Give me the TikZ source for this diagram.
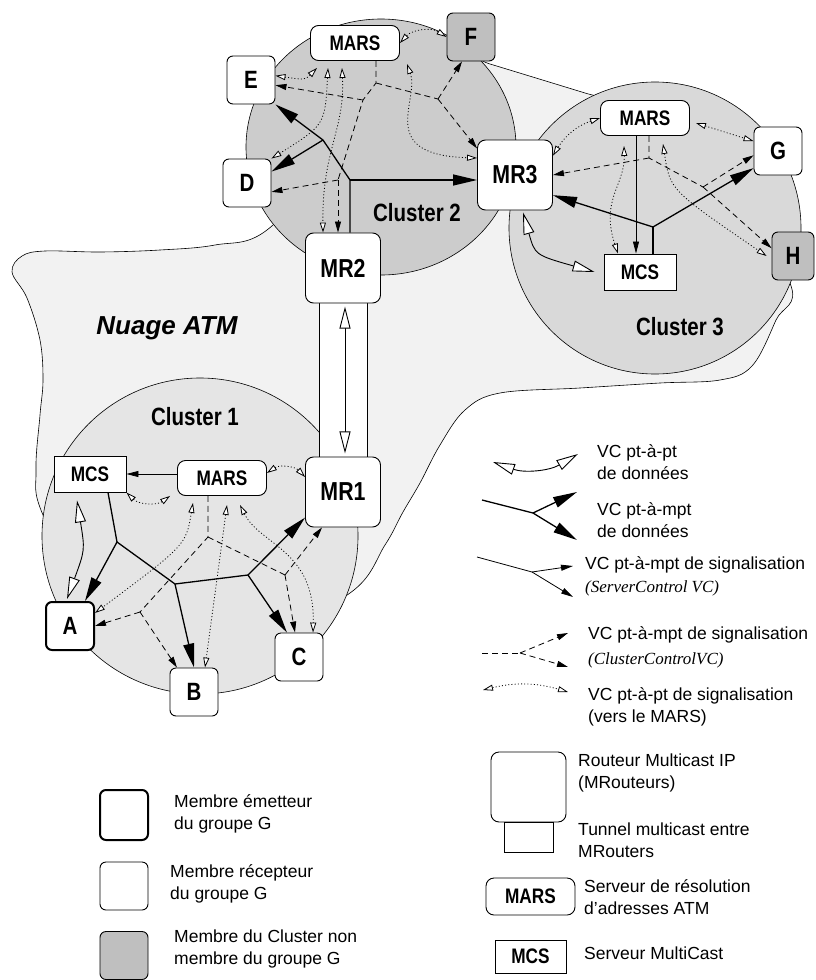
\documentclass[tikz,border=0pt]{standalone}
\usepackage{fontspec}
\setmainfont{Liberation Sans}
\newfontfamily\narrowsf{Liberation Sans}[FakeStretch=0.82]
\newfontfamily\seriffont{Liberation Serif}
\usetikzlibrary{arrows.meta}
\definecolor{cloudgray}{gray}{0.95}
\definecolor{clusterone}{gray}{0.9}
\definecolor{clustertwo}{gray}{0.8}
\definecolor{clusterthree}{gray}{0.85}
\definecolor{membergray}{gray}{0.75}
\newcommand\boxfont[1]{\narrowsf\bfseries\fontsize{#1}{#1}\selectfont}

\begin{document}
\begin{tikzpicture}[x=1pt,y=1pt,
  member/.style={draw,fill=white,rounded corners=6pt,line width=0.9pt,minimum width=48pt,minimum height=48pt,inner sep=0pt,font=\boxfont{25}},
  sender/.style={member,line width=2pt},
  nonmember/.style={member,fill=membergray},
  router/.style={member,rounded corners=8pt,minimum width=75pt,minimum height=70pt,font=\boxfont{26}},
  mars/.style={member,rounded corners=8pt,minimum width=89pt,minimum height=35pt,font=\boxfont{21}},
  mcs/.style={draw,fill=white,line width=0.9pt,minimum width=72pt,minimum height=36pt,inner sep=0pt,font=\boxfont{21}},
  clusterlbl/.style={font=\boxfont{25}},
  legtext/.style={anchor=west,align=left,inner sep=0pt,font=\fontsize{17.5}{22}\selectfont},
  legital/.style={legtext,font=\seriffont\itshape\fontsize{17}{20}\selectfont},
  dataline/.style={line width=1.3pt},
  data/.style={dataline,-{Triangle[length=24pt,width=11pt]}},
  datapp/.style={line width=0.9pt,{Triangle[fill=white,length=22pt,width=11pt]}-{Triangle[fill=white,length=22pt,width=11pt]}},
  srv/.style={line width=0.8pt,-{Triangle[length=12pt,width=6pt]}},
  ctlline/.style={line width=0.8pt,dash pattern=on 6pt off 4pt},
  ctl/.style={ctlline,-{Triangle[length=11pt,width=6pt]}},
  sig/.style={line width=0.8pt,dash pattern=on 1pt off 2.2pt,{Triangle[fill=white,length=10pt,width=6pt]}-{Triangle[fill=white,length=10pt,width=6pt]}}]
\useasboundingbox (0,0) rectangle (815,-980);

\draw[fill=cloudgray,line width=0.6pt] plot[smooth cycle,tension=0.6] coordinates {(12,-272) (22,-256) (45,-251) (100,-252) (160,-250) (215,-245) (267,-230) (340,-150) (440,-49) (490,-64) (585,-93) (640,-110) (720,-180) (790,-283) (776,-320) (752,-366) (720,-380) (660,-383) (580,-388) (500,-393) (465,-410) (440,-445) (420,-483) (403,-512) (385,-545) (350,-593) (250,-640) (100,-620) (43,-515) (36,-470) (40,-415) (43,-380) (40,-340) (27,-298)};
\draw[fill=clustertwo,line width=0.6pt] (381,-147) ellipse (135pt and 128pt);
\draw[fill=clusterthree,line width=0.6pt] (655,-228) circle (146pt);
\draw[fill=clusterone,line width=0.6pt] (200,-536) circle (158pt);

\node[clusterlbl] (lbl2) at (417,-213) {Cluster 2};
\node[clusterlbl] (lbl3) at (680,-327) {Cluster 3};
\node[clusterlbl] (lbl1) at (195,-417) {Cluster 1};
\node[font=\bfseries\itshape\fontsize{26}{26}\selectfont] (nuage) at (167,-328) {Nuage ATM};

\node[draw,fill=white,line width=0.9pt,minimum width=48pt,minimum height=160pt,inner sep=0pt] (tunnel) at (343,-380) {};

\node[mars] (MARS2) at (355,-43) {MARS};
\node[nonmember] (F) at (471,-37) {F};
\node[member] (E) at (251,-80) {E};
\node[member] (D) at (247,-183) {D};
\node[router] (MR2) at (343,-268) {MR2};
\node[router] (MR3) at (515,-175) {MR3};
\node[mars] (MARS3) at (645,-118) {MARS};
\node[member] (G) at (778,-151) {G};
\node[nonmember,minimum width=42pt] (H) at (793,-256) {H};
\node[mcs] (MCS3) at (640,-272) {MCS};
\node[mcs] (MCS1) at (90,-474) {MCS};
\node[mars] (MARS1) at (222,-478) {MARS};
\node[router] (MR1) at (343,-492) {MR1};
\node[sender] (A) at (70,-626) {A};
\node[member] (B) at (194,-692) {B};
\node[member] (C) at (299,-657) {C};

\draw[datapp] ([xshift=2pt,yshift=-7pt]tunnel.north) -- ([xshift=2pt,yshift=7pt]tunnel.south);

\coordinate (d2a) at (350,-180);
\coordinate (d2b) at (323,-140);
\draw[dataline] (d2a |- MR2.north) -- (d2a) -- (d2b);
\draw[data] (d2a) -- (MR3.west |- d2a);
\draw[data] (d2b) -- (E.south east);
\draw[data] (d2b) -- (D.25);
\coordinate (c2a) at (376,-83);
\coordinate (c2b) at (363,-100);
\coordinate (c2c) at (338,-180);
\coordinate (c2d) at (438,-99);
\draw[ctlline] ([xshift=21pt]MARS2.south) -- (c2a) -- (c2b) -- (c2c);
\draw[ctl] (c2b) -- (E.-12);
\draw[ctl] (c2c) -- (D.-20);
\draw[ctl] (c2c) -- (c2c |- MR2.north);
\draw[ctlline] (c2a) -- (c2d);
\draw[ctl] (c2d) -- ([xshift=-9pt]F.south);
\draw[ctl] (c2d) -- (MR3.145);
\draw[sig] ([xshift=-38pt,yshift=-7pt]MARS2.south) .. controls (305,-80) .. (E.10);
\draw[sig] ([xshift=-27pt,yshift=-7pt]MARS2.south) .. controls (325,-125) .. (D.north east);
\draw[sig] ([xshift=-13pt,yshift=-7pt]MARS2.south) .. controls (345,-130) and (322,-150) .. ([xshift=-20pt]MR2.north);
\draw[sig] (MARS2.east) to[bend left=40] (F.west);
\draw[sig] ([xshift=52pt,yshift=-3pt]MARS2.south) .. controls (420,-100) and (375,-155) .. ([yshift=17pt]MR3.west);

\draw[srv] ([xshift=-9pt]MARS3.south) -- ([xshift=-4pt]MCS3.north);
\coordinate (d3) at (653,-227);
\draw[dataline] ([xshift=13pt]MCS3.north) -- (d3);
\draw[data] (d3) -- (MR3.-28);
\draw[data] (d3) -- (G.-145);
\coordinate (c3a) at (649,-158);
\coordinate (c3b) at (703,-187);
\draw[ctlline] ([xshift=4pt]MARS3.south) -- (c3a) -- (c3b);
\draw[ctl] (c3a) -- (MR3.east);
\draw[ctl] (c3b) -- (G.-170);
\draw[ctl] (c3b) -- (H.160);
\draw[sig] (MARS3.west) to[bend right=20] (MR3.27);
\draw[sig] ([xshift=6pt,yshift=-5pt]MARS3.east) -- (G.158);
\draw[sig] ([xshift=-21pt,yshift=-10pt]MARS3.south) .. controls (625,-185) and (600,-200) .. ([xshift=-22pt]MCS3.north);
\draw[sig] ([xshift=18pt,yshift=-8pt]MARS3.south) .. controls (670,-190) .. ([xshift=-5pt]H.west);
\draw[datapp] ([xshift=8pt,yshift=-2pt]MR3.south) .. controls (535,-255) .. ([xshift=-9pt]MCS3.west);

\draw[srv] (MARS1.west |- MCS1.east) -- (MCS1.east);
\coordinate (d1a) at (117,-542);
\coordinate (d1b) at (175,-584);
\coordinate (d1c) at (248,-575);
\draw[dataline] ([xshift=18pt]MCS1.south) -- (d1a) -- (d1b) -- (d1c);
\draw[data] (d1a) -- ([xshift=15pt]A.north);
\draw[data] (d1b) -- (B.north);
\draw[data] (d1c) -- (MR1.-146);
\draw[data] (d1c) -- ([xshift=-12pt]C.north);
\coordinate (c1a) at (208,-537);
\coordinate (c1b) at (140,-612);
\coordinate (c1c) at (285,-575);
\draw[ctlline] ([xshift=-14pt]MARS1.south) -- (c1a) -- (c1b);
\draw[ctlline] (c1a) -- (c1c);
\draw[ctl] (c1b) -- (A.east);
\draw[ctl] (c1b) -- ([xshift=-17pt]B.north);
\draw[ctl] (c1c) -- ([xshift=-21pt]MR1.south);
\draw[ctl] (c1c) -- ([xshift=-4pt]C.north);
\draw[sig] ([yshift=5pt]MARS1.east) to[bend left=40] ([yshift=15pt]MR1.west);
\draw[sig] (MCS1.south east) to[bend right=40] ([xshift=-7pt]MARS1.south west);
\draw[sig] ([xshift=-29pt,yshift=-7pt]MARS1.south) .. controls (186,-545) .. ([yshift=13pt]A.east);
\draw[sig] ([xshift=5pt,yshift=-9pt]MARS1.south) -- ([xshift=11pt]B.north);
\draw[sig] ([xshift=18pt,yshift=-9pt]MARS1.south) .. controls (260,-545) and (315,-550) .. ([xshift=14pt]C.north);
\draw[datapp] ([xshift=-13pt,yshift=-8pt]MCS1.south) .. controls (85,-550) .. ([xshift=-3pt,yshift=2pt]A.north);

\coordinate (l1a) at (493,-462);
\coordinate (l1b) at (578,-454);
\draw[datapp] (l1a) to[bend right=25] (l1b);
\coordinate (l2a) at (482,-500);
\coordinate (l2j) at (533,-513);
\coordinate (l2b) at (577,-492);
\coordinate (l2c) at (577,-540);
\draw[dataline] (l2a) -- (l2j);
\draw[data] (l2j) -- (l2b);
\draw[data] (l2j) -- (l2c);
\coordinate (l3a) at (477,-557);
\coordinate (l3j) at (532,-572);
\coordinate (l3b) at (573,-566);
\coordinate (l3c) at (573,-597);
\draw[line width=0.8pt] (l3a) -- (l3j);
\draw[srv] (l3j) -- (l3b);
\draw[srv] (l3j) -- (l3c);
\coordinate (l4a) at (482,-653);
\coordinate (l4j) at (520,-653);
\coordinate (l4b) at (568,-633);
\coordinate (l4c) at (568,-667);
\draw[ctlline] (l4a) -- (l4j);
\draw[ctl] (l4j) -- (l4b);
\draw[ctl] (l4j) -- (l4c);
\coordinate (l5a) at (483,-690);
\coordinate (l5b) at (568,-692);
\draw[sig] (l5a) to[bend left=15] (l5b);

\node[router] (lrouter) at (528.5,-787) {};
\node[draw,fill=white,line width=0.9pt,minimum width=49pt,minimum height=30pt,inner sep=0pt] (ltunnel) at (528.5,-837) {};
\node[mars,minimum height=37pt] (lmars) at (530.5,-896.5) {MARS};
\node[mcs,minimum width=71pt,minimum height=33pt] (lmcs) at (530.5,-956.5) {MCS};
\node[sender,minimum height=50pt] (lsender) at (124,-815) {};
\node[member] (lreceiver) at (124,-886) {};
\node[nonmember] (lother) at (124,-955.5) {};

\node[legtext] at (597,-462) {VC pt-à-pt\\de données};
\node[legtext] at (597,-520) {VC pt-à-mpt\\de données};
\node[legtext] at (585,-565) {VC pt-à-mpt de signalisation};
\node[legital] at (585,-588) {(ServerControl VC)};
\node[legtext] at (588,-635) {VC pt-à-mpt de signalisation};
\node[legital] at (588,-660) {(ClusterControlVC)};
\node[legtext] at (588,-707) {VC pt-à-pt de signalisation\\(vers le MARS)};
\node[legtext] at (578,-773) {Routeur Multicast IP\\(MRouteurs)};
\node[legtext] at (578,-840) {Tunnel multicast entre\\MRouters};
\node[legtext] at (584,-897) {Serveur de résolution\\d'adresses ATM};
\node[legtext] at (584,-953) {Serveur MultiCast};
\node[legtext] at (174,-814) {Membre émetteur\\du groupe G};
\node[legtext] at (170,-884) {Membre récepteur\\du groupe G};
\node[legtext] at (174,-949) {Membre du Cluster non\\membre du groupe G};
\end{tikzpicture}
\end{document}
